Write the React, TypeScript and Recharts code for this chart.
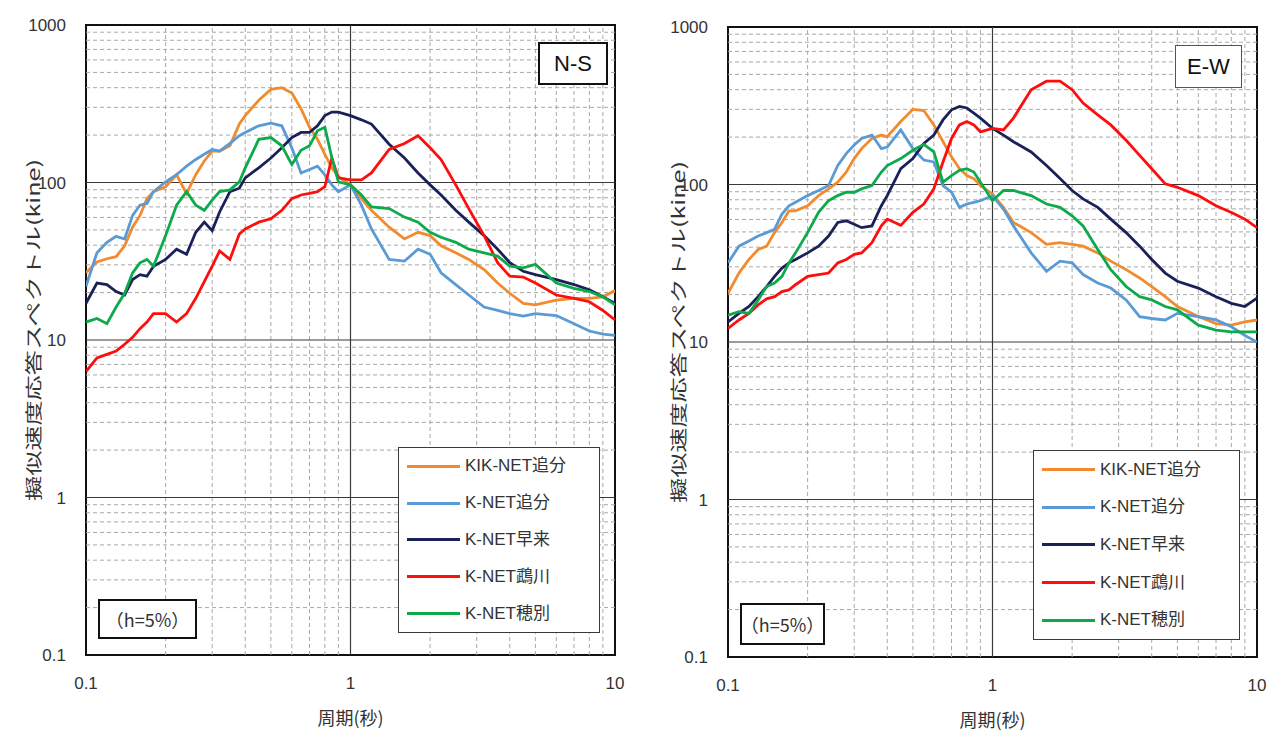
import React from 'react';
import { LineChart, Line, XAxis, YAxis, ReferenceLine, ReferenceArea, Legend } from 'recharts';

// ---- data ----
const periods = [0.1, 0.11, 0.12, 0.13, 0.14, 0.15, 0.16, 0.17, 0.18, 0.2, 0.22, 0.24, 0.26, 0.28, 0.3, 0.32, 0.35, 0.38, 0.4, 0.45, 0.5, 0.55, 0.6, 0.65, 0.7, 0.75, 0.8, 0.85, 0.9, 1.0, 1.1, 1.2, 1.4, 1.6, 1.8, 2.0, 2.2, 2.5, 2.8, 3.2, 3.6, 4, 4.5, 5, 6, 7, 8, 9, 10];

const seriesNames = ['KIK-NET追分', 'K-NET追分', 'K-NET早来', 'K-NET鵡川', 'K-NET穂別'];
const seriesColors = ['#F28A2E', '#5B9BD5', '#1A2158', '#FF0D0D', '#0DAA4B'];

// N-S component
const nsKikOiwake = [26.7, 31.3, 32.8, 33.8, 39.6, 52, 61.8, 79, 87.5, 94, 112, 85, 112, 137, 158, 158, 171, 235, 266, 333, 390, 400, 370, 294, 224, 188, 151, 124, 109, 96.6, 79, 66.6, 52, 43.8, 48.3, 46, 39.6, 35.8, 32.5, 28, 23, 19.8, 17.1, 16.7, 17.9, 18.4, 18.4, 18.8, 20.6];
const nsKOiwake = [21.9, 35.8, 41.7, 45.5, 43.8, 61.8, 71.8, 73.6, 87.5, 101, 112, 127, 140, 151, 162, 158, 177, 198, 208, 229, 238, 229, 166, 115, 121, 127, 112, 96.6, 87.5, 96.6, 71.8, 50.7, 32.5, 31.7, 37.7, 35, 26.7, 22.5, 19.3, 16.2, 15.4, 14.7, 14.2, 14.7, 14.3, 12.7, 11.4, 10.9, 10.7];
const nsHayakita = [17.1, 23, 22.5, 20.3, 19.3, 24.2, 26, 25.4, 29.4, 32.5, 37.7, 35, 48.3, 56, 49.5, 65, 87.5, 92, 107, 124, 143, 166, 193, 208, 208, 229, 266, 280, 280, 266, 250, 235, 175, 143, 115, 96.6, 83.3, 66.6, 56, 46, 37.7, 31, 27.3, 26, 24.2, 22.5, 20.8, 18.8, 17.1];
const nsMukawa = [6.3, 7.7, 8.1, 8.5, 9.4, 10.4, 11.8, 13, 14.7, 14.7, 13, 14.7, 18.4, 23.5, 29.4, 36.8, 32.5, 47.1, 50.7, 56, 58.8, 66.6, 79, 83.3, 85.3, 87.5, 94.2, 143, 107, 104, 104, 115, 162, 177, 198, 166, 140, 96.6, 68.3, 46, 31, 25.4, 25.1, 23, 19.3, 18.4, 17.5, 15.4, 13.4];
const nsHobetsu = [13, 13.7, 12.7, 16.2, 19.8, 26.7, 30.9, 32.5, 29.4, 46, 71.8, 87.5, 71.8, 66.6, 77.3, 87.5, 89.7, 101, 124, 188, 193, 171, 130, 160, 171, 213, 224, 144, 101, 96.6, 83.3, 70, 68.3, 60.3, 56, 48.3, 44.9, 41.7, 37.7, 35.8, 34.1, 29.4, 28.7, 30.2, 23, 21.3, 20.3, 18.8, 16.7];

// E-W component
const ewKikOiwake = [20.4, 27.4, 33.4, 38.7, 40.6, 49.5, 57.4, 68.1, 68.1, 73.3, 85, 93.8, 103.5, 120, 146, 169, 196, 206, 201, 251, 300, 295, 239, 187, 150, 126, 114, 109, 98.5, 87.1, 71.6, 57.4, 49.5, 41.7, 42.7, 41.7, 40.6, 36.8, 32.6, 28.8, 25.5, 22.5, 19.4, 16.8, 14.5, 13.1, 12.8, 13.4, 13.8];
const ewKOiwake = [31.8, 40.6, 43.8, 47.1, 49.5, 52, 64.9, 73.3, 77.1, 85, 91.6, 98.5, 132, 157, 178, 196, 206, 169, 173, 222, 169, 143, 139, 98.5, 89.3, 71.6, 75.2, 77.1, 78.9, 85, 69.8, 54.6, 36.8, 28.1, 32.6, 31.8, 26.8, 23.7, 22, 18.5, 14.5, 14.1, 13.8, 15.2, 14.5, 13.8, 12.5, 11, 10];
const ewHayakita = [13.4, 15.2, 16.8, 19.4, 22.5, 26.1, 29.5, 31.8, 33.4, 36.8, 40.6, 47.1, 57.4, 58.8, 56, 53.2, 54.6, 73.3, 85, 126, 146, 182, 206, 257, 298, 313, 306, 284, 264, 227, 206, 187, 161, 132, 109, 91.6, 81, 71.6, 60.3, 49.5, 40.6, 33.4, 27.4, 24.3, 22, 19.4, 17.6, 16.8, 19];
const ewMukawa = [12.2, 13.8, 15.2, 17.2, 18.8, 19.4, 20.9, 21.4, 23.1, 26.1, 26.8, 27.4, 31.8, 33.4, 36, 36.8, 42.7, 54.6, 60.3, 55, 66.5, 75.2, 93.8, 139, 196, 239, 251, 239, 216, 227, 222, 264, 400, 453, 453, 400, 329, 277, 239, 191, 153, 126, 101, 96, 85, 73.3, 66.5, 60.3, 53.2];
const ewHobetsu = [14.8, 15.6, 15.2, 18.5, 22.5, 23.7, 26.1, 31.8, 36.8, 49.5, 66.5, 78.9, 85, 89.3, 89.3, 93.8, 98.5, 120, 132, 146, 165, 180, 161, 103.5, 114, 123, 126, 120, 103.5, 78.9, 91.6, 91.6, 85, 75.2, 71.6, 63.3, 54.6, 38.7, 28.8, 22.5, 19.4, 18.5, 16.8, 16, 12.8, 11.9, 11.6, 11.6, 11.6];

const xTicks = [0.1, 1, 10];
const yTicks = [0.1, 1, 10, 100, 1000];
const xMajor = [1];
const yMajor = [1, 10, 100];
const xMinor = [0.2, 0.3, 0.4, 0.5, 0.6, 0.7, 0.8, 0.9, 2, 3, 4, 5, 6, 7, 8, 9];
const yMinor = [0.2, 0.3, 0.4, 0.5, 0.6, 0.7, 0.8, 0.9, 2, 3, 4, 5, 6, 7, 8, 9, 20, 30, 40, 50, 60, 70, 80, 90, 200, 300, 400, 500, 600, 700, 800, 900];

const xTitle = '周期(秒)';
const yTitle = '擬似速度応答スペクトル(kine)';
const dampingText = '（h=5%）';

const FONT = "'Liberation Sans', 'Noto Sans CJK JP', sans-serif";
const CJK = "'Noto Sans CJK JP', sans-serif";

type PanelProps = {
  left: number;
  top: number;
  width: number;
  height: number;
  margin: { top: number; right: number; bottom: number; left: number };
  yAxisWidth: number;
  series: number[][];
  title: string;
  titleBox: { left: number; top: number; width: number; height: number; border: string };
  hBox: { left: number; top: number; width: number; height: number };
  legendBox: { left: number; top: number; width: number; height: number };
  yLabelX: number;
  yLabelShift: number;
};

function Panel(p: PanelProps) {
  const data = periods.map((t, i) => {
    const row: Record<string, number> = { period: t };
    p.series.forEach((s, k) => {
      row['s' + k] = s[i];
    });
    return row;
  });

  const legendContent = () => (
    <div
      style={{
        width: p.legendBox.width,
        height: p.legendBox.height,
        boxSizing: 'border-box',
        border: '1.5px solid #3a3a3a',
        background: '#fff',
        display: 'flex',
        flexDirection: 'column',
        justifyContent: 'space-around',
        paddingLeft: 8,
      }}
    >
      {seriesNames.map((n, k) => (
        <div key={n} style={{ display: 'flex', alignItems: 'center' }}>
          <div style={{ width: 53, height: 3, background: seriesColors[k] }} />
          <span style={{ marginLeft: 5, fontSize: 17, fontFamily: FONT, color: '#333', lineHeight: '20px' }}>{n}</span>
        </div>
      ))}
    </div>
  );

  const yLabel = (props: any) => {
    const vb = props.viewBox || {};
    const cx = p.yLabelX;
    const cy = (vb.y ?? 0) + (vb.height ?? 0) / 2 + p.yLabelShift;
    return (
      <text
        x={0}
        y={0}
        transform={`translate(${cx} ${cy}) rotate(-90) scale(1.48 1)`}
        textAnchor="middle"
        dominantBaseline="central"
        fontSize={17}
        fontFamily={CJK}
        fill="#333"
      >
        {yTitle}
      </text>
    );
  };

  return (
    <div style={{ position: 'absolute', left: p.left, top: p.top, width: p.width, height: p.height }}>
      <LineChart width={p.width} height={p.height} data={data} margin={p.margin}>
        <XAxis
          dataKey="period"
          type="number"
          scale="log"
          domain={[0.1, 10]}
          ticks={xTicks}
          interval={0}
          allowDataOverflow
          height={30}
          axisLine={false}
          tickLine={false}
          tickSize={0}
          tickMargin={22}
          tick={{ fill: '#333', fontSize: 17, fontFamily: FONT }}
          label={{ value: xTitle, position: 'bottom', offset: 27, fill: '#333', fontSize: 18, fontFamily: CJK }}
        />
        <YAxis
          type="number"
          scale="log"
          domain={[0.1, 1000]}
          ticks={yTicks}
          interval={0}
          allowDataOverflow
          width={p.yAxisWidth}
          axisLine={false}
          tickLine={false}
          tickSize={0}
          tickMargin={20}
          tick={{ fill: '#333', fontSize: 17, fontFamily: FONT }}
          label={{ content: yLabel }}
        />
        {xMinor.map((v) => (
          <ReferenceLine key={'xm' + v} x={v} stroke="#a8a8a8" strokeDasharray="4 3" strokeWidth={1} />
        ))}
        {yMinor.map((v) => (
          <ReferenceLine key={'ym' + v} y={v} stroke="#a8a8a8" strokeDasharray="4 3" strokeWidth={1} />
        ))}
        {xMajor.map((v) => (
          <ReferenceLine key={'xM' + v} x={v} stroke="#3a3a3a" strokeWidth={1.2} />
        ))}
        {yMajor.map((v) => (
          <ReferenceLine key={'yM' + v} y={v} stroke="#3a3a3a" strokeWidth={1.2} />
        ))}
        <ReferenceArea x1={0.1} x2={10} y1={0.1} y2={1000} fill="none" fillOpacity={0} stroke="#111" strokeWidth={2} />
        {p.series.map((_, k) => (
          <Line
            key={k}
            type="linear"
            dataKey={'s' + k}
            name={seriesNames[k]}
            stroke={seriesColors[k]}
            strokeWidth={2.8}
            dot={false}
            activeDot={false}
            isAnimationActive={false}
          />
        ))}
        <Legend
          layout="vertical"
          align="center"
          verticalAlign="middle"
          content={legendContent}
          wrapperStyle={{ left: p.legendBox.left, top: p.legendBox.top, width: p.legendBox.width, height: p.legendBox.height }}
        />
      </LineChart>
      <div
        style={{
          position: 'absolute',
          left: p.titleBox.left,
          top: p.titleBox.top,
          width: p.titleBox.width,
          height: p.titleBox.height,
          boxSizing: 'border-box',
          border: p.titleBox.border,
          background: '#fff',
          display: 'flex',
          alignItems: 'center',
          justifyContent: 'center',
          fontFamily: FONT,
          fontSize: 22,
          color: '#111',
        }}
      >
        {p.title}
      </div>
      <div
        style={{
          position: 'absolute',
          left: p.hBox.left,
          top: p.hBox.top,
          width: p.hBox.width,
          height: p.hBox.height,
          boxSizing: 'border-box',
          border: '2px solid #111',
          background: '#fff',
          display: 'flex',
          alignItems: 'center',
          justifyContent: 'center',
          fontFamily: CJK,
          fontSize: 18,
          color: '#333',
          whiteSpace: 'nowrap',
        }}
      >
        {dampingText}
      </div>
    </div>
  );
}

export default function App() {
  return (
    <div style={{ position: 'absolute', left: 0, top: 0, width: 1287, height: 742, background: '#fff', overflow: 'hidden' }}>
      <Panel
        left={0}
        top={0}
        width={640}
        height={742}
        margin={{ top: 25, right: 25, bottom: 57, left: 0 }}
        yAxisWidth={86}
        series={[nsKikOiwake, nsKOiwake, nsHayakita, nsMukawa, nsHobetsu]}
        title="N-S"
        titleBox={{ left: 538, top: 42, width: 70, height: 43, border: '2px solid #111' }}
        hBox={{ left: 98, top: 599, width: 99, height: 40 }}
        legendBox={{ left: 398, top: 447, width: 202, height: 186 }}
        yLabelX={32}
        yLabelShift={-10}
      />
      <Panel
        left={640}
        top={0}
        width={647}
        height={742}
        margin={{ top: 27, right: 30, bottom: 55, left: 0 }}
        yAxisWidth={88}
        series={[ewKikOiwake, ewKOiwake, ewHayakita, ewMukawa, ewHobetsu]}
        title="E-W"
        titleBox={{ left: 535, top: 45, width: 67, height: 43, border: '1.5px solid #555' }}
        hBox={{ left: 100, top: 603, width: 85, height: 42 }}
        legendBox={{ left: 393, top: 450, width: 207, height: 190 }}
        yLabelX={37}
        yLabelShift={-10}
      />
    </div>
  );
}
